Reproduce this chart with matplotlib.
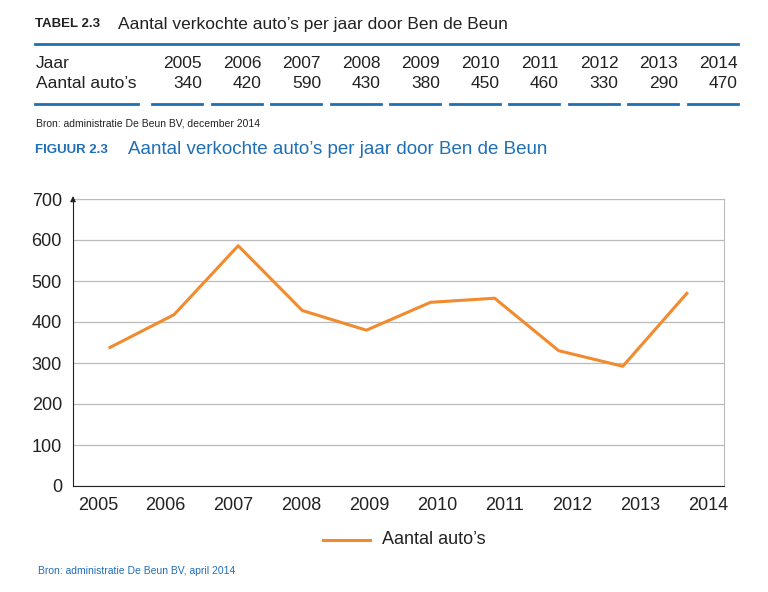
import matplotlib.pyplot as plt
from matplotlib.lines import Line2D

plt.rcParams['font.family'] = ['Liberation Sans Narrow', 'Liberation Sans', 'DejaVu Sans']

jaren = ['2005', '2006', '2007', '2008', '2009', '2010', '2011', '2012', '2013', '2014']
autos = [340, 420, 590, 430, 380, 450, 460, 330, 290, 470]
# values as drawn in the figure
autos_fig = [338, 418, 586, 428, 380, 448, 458, 330, 292, 470]

blue = '#1f6fb5'
orange = '#f28a2e'
dark = '#222222'

fig = plt.figure(figsize=(7.68, 5.92), dpi=100)
W, H = 768, 592

def fx(px):
    return px / W

def fy(py):
    return 1 - py / H

# table part
fig.text(fx(35), fy(24), 'TABEL 2.3', fontsize=9.5, fontweight='bold', color=dark,
         family='Liberation Sans', va='center')
fig.text(fx(118), fy(24), 'Aantal verkochte auto\u2019s per jaar door Ben de Beun', fontsize=12.5,
         color=dark, va='center')
fig.add_artist(Line2D([fx(35), fx(738)], [fy(44), fy(44)], color=blue, lw=2))
fig.text(fx(36), fy(63), 'Jaar', fontsize=12.5, color=dark, va='center')
fig.text(fx(36), fy(84), 'Aantal auto\u2019s', fontsize=12.5, color=dark, va='center')
fig.add_artist(Line2D([fx(35), fx(138)], [fy(104), fy(104)], color=blue, lw=2))
for i, (j, a) in enumerate(zip(jaren, autos)):
    xr = 202 + i * 59.5
    fig.text(fx(xr), fy(63), j, fontsize=12.5, color=dark, va='center', ha='right')
    fig.text(fx(xr), fy(84), str(a), fontsize=12.5, color=dark, va='center', ha='right')
    fig.add_artist(Line2D([fx(xr - 50), fx(xr)], [fy(104), fy(104)], color=blue, lw=2))
fig.text(fx(36), fy(124), 'Bron: administratie De Beun BV, december 2014', fontsize=7.5,
         color=dark, va='center')

fig.text(fx(35), fy(150), 'FIGUUR 2.3', fontsize=9.5, fontweight='bold', color=blue,
         family='Liberation Sans', va='center')
fig.text(fx(128), fy(150), 'Aantal verkochte auto\u2019s per jaar door Ben de Beun', fontsize=13.5,
         color=blue, va='center')

# chart
ax = fig.add_axes([fx(73), fy(486), fx(724 - 73), (486 - 199) / H])
xs = list(range(len(autos_fig)))
ax.plot(xs, autos_fig, color=orange, lw=2.2)
step = 64.1
ax.set_xlim((73 - 110) / step, (724 - 110) / step)
ax.set_ylim(0, 700)
ax.set_yticks(range(0, 701, 100))
ax.set_xticks([(98 - 110) / step + i * 67.8 / step for i in range(len(jaren))])
ax.set_xticklabels(jaren)
ax.tick_params(length=0, labelsize=13, colors=dark, pad=8)
ax.grid(axis='y', color='#bbbbbb', lw=0.9)
ax.set_axisbelow(True)
for s in ['top', 'right']:
    ax.spines[s].set_color('#bbbbbb')
ax.spines['left'].set_color(dark)
ax.spines['bottom'].set_color(dark)
ax.annotate('', xy=(0, 1.02), xycoords='axes fraction', xytext=(0, 0.99),
            arrowprops=dict(arrowstyle='-|>', color=dark, lw=0.8, mutation_scale=8))

fig.add_artist(Line2D([fx(323), fx(370)], [fy(540), fy(540)], color=orange, lw=2.2))
fig.text(fx(382), fy(540), 'Aantal auto\u2019s', fontsize=13, color=dark, va='center')
fig.text(fx(38), fy(571), 'Bron: administratie De Beun BV, april 2014', fontsize=7.5,
         color=blue, va='center')

fig.savefig('out.png', dpi=100)
